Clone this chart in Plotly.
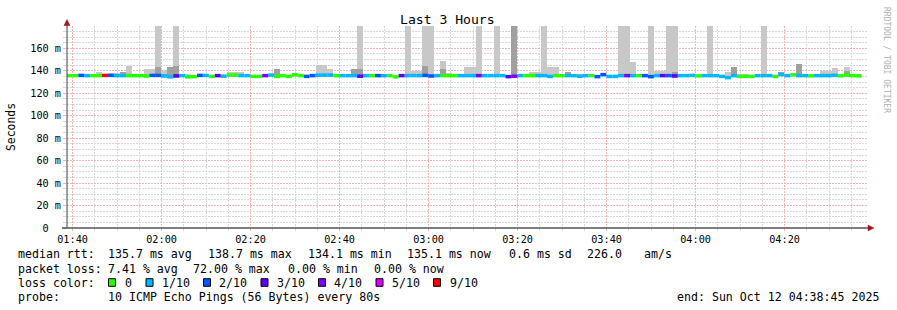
import plotly.graph_objects as go
from datetime import datetime, timedelta

N = None
range_start = "2025-10-12 01:38:45"
range_end = "2025-10-12 04:38:45"
first_bin_start = datetime(2025, 10, 12, 1, 38, 37)
step_seconds = 80

# loss count (of 10 pings) per 80 s bin
loss = [
    0, 0, 2, 1, 0, 0, 9, 2, 1, 1,
    0, 0, 0, 0, 2, 2, 1, 1, 3, 1,
    0, 0, 2, 1, 0, 3, 1, 0, 0, 1,
    1, 0, 0, 4, 1, 0, 0, 0, 0, 0,
    2, 2, 1, 1, 1, 0, 1, 1, 1, 3,
    1, 0, 2, 1, 0, 0, 3, 1, 1, 1,
    2, 2, 1, 0, 0, 0, 1, 1, 1, 4,
    1, 1, 1, 1, 3, 4, 1, 0, 0, 1,
    1, 1, 0, 0, 1, 1, 1, 1, 0, 2,
    2, 1, 1, 1, 4, 1, 0, 2, 2, 1,
    3, 2, 3, 1, 1, 1, 0, 1, 1, 1,
    1, 1, 1, 0, 0, 0, 1, 1, 1, 0,
    1, 1, 0, 1, 1, 0, 1, 1, 1, 1,
    0, 0, 0, 0,
]

# median rtt (ms)
median_ms = [
    135.7, 135.7, 135.9, 135.7, 135.7, 135.7, 135.9, 135.9, 135.7, 135.7,
    135.7, 135.7, 135.7, 135.5, 135.9, 135.9, 135.5, 134.6, 135.5, 135.7,
    134.6, 134.8, 135.9, 135.9, 135.0, 135.7, 135.2, 136.2, 136.2, 135.7,
    135.7, 135.0, 135.0, 135.7, 136.2, 135.0, 135.7, 135.0, 136.4, 135.7,
    135.0, 135.7, 136.2, 136.2, 136.2, 135.7, 135.7, 135.7, 135.7, 135.2,
    135.7, 135.7, 135.7, 135.7, 135.7, 134.6, 135.7, 135.7, 135.7, 135.7,
    135.9, 135.4, 135.7, 135.7, 135.7, 135.7, 135.7, 135.7, 135.7, 135.7,
    135.7, 135.7, 135.7, 135.7, 134.8, 135.2, 135.7, 135.7, 135.7, 135.7,
    135.7, 135.0, 135.7, 135.7, 135.7, 135.7, 135.2, 135.7, 135.7, 134.8,
    136.6, 135.0, 135.0, 135.7, 135.7, 135.7, 135.7, 135.7, 134.8, 135.7,
    135.7, 135.7, 135.5, 135.7, 135.7, 135.9, 135.5, 135.7, 135.7, 135.7,
    135.0, 133.9, 135.7, 135.0, 135.0, 135.0, 135.7, 135.7, 135.7, 135.0,
    136.6, 135.7, 136.4, 135.7, 135.7, 135.5, 135.7, 135.7, 135.7, 135.9,
    135.5, 136.4, 135.7, 135.5,
]

# smoke: lowest ping, highest ping, inner (2nd highest) ping (ms)
smoke_min = [
    N, N, N, N, N, 134.2, N, 134.4, 134.2, 134.2,
    134.2, N, N, 134.0, 134.4, 134.4, 134.0, 133.6, 134.0, N,
    133.6, N, N, N, N, N, N, 134.7, 134.7, 134.2,
    N, N, N, N, N, 133.5, N, N, N, N,
    N, N, 134.7, 134.7, 134.7, N, N, N, 134.2, 133.7,
    N, N, N, N, N, N, N, 134.2, 134.2, 134.2,
    134.4, 133.9, N, 134.2, 134.2, N, N, 134.2, 134.2, 134.2,
    N, N, 134.2, N, N, 133.7, N, N, 134.2, 134.2,
    134.2, 133.5, 134.2, N, 134.2, 134.2, 133.7, N, N, N,
    135.1, N, N, 134.2, 134.2, 134.2, N, N, 133.3, 134.2,
    134.2, 134.2, 134.0, 134.2, 134.2, 134.4, N, N, 134.2, N,
    N, 132.4, 134.2, 133.5, 133.5, N, N, 134.2, N, N,
    135.1, N, N, 134.2, N, N, N, 134.2, 134.2, 134.4,
    N, 134.9, N, N,
]
smoke_max = [
    N, N, N, N, N, 139.0, N, 137.8, 137.8, 138.7,
    144.0, N, N, 141.5, 142.0, 200, 140.4, 143.0, 200, N,
    137.5, N, N, N, N, N, N, 138.7, 139.0, 139.0,
    N, N, N, N, N, 142.0, N, N, N, N,
    N, N, 145.0, 145.0, 142.0, N, N, N, 141.6, 200,
    N, N, N, N, N, N, N, 200, 140.0, 140.0,
    200, 200, N, 149.0, 138.0, N, N, 143.0, 143.0, 200,
    N, N, 200, N, N, 200, N, N, 139.0, 139.0,
    200, 143.0, 143.0, N, 138.7, 137.0, 137.0, N, N, N,
    137.0, N, N, 200, 200, 147.5, N, N, 200, 140.0,
    140.0, 200, 200, 137.0, 137.0, 137.5, N, N, 200, N,
    N, 138.7, 143.0, 137.0, 137.0, N, N, 200, N, N,
    138.7, N, N, 146.0, N, N, N, 139.7, 139.7, 142.5,
    N, 143.0, N, N,
]
smoke_inner = [
    N, N, N, N, N, N, N, N, N, 138.7,
    N, N, N, N, N, 143.0, N, 143.0, 144.0, N,
    N, N, N, N, N, N, N, N, N, N,
    N, N, N, N, N, 142.0, N, N, N, N,
    N, N, 137.5, N, N, N, N, N, 141.6, 141.6,
    N, N, N, N, N, N, N, N, N, N,
    144.6, N, N, 142.0, N, N, N, N, N, N,
    N, N, N, N, N, 200, N, N, N, N,
    N, N, N, N, 138.7, N, N, N, N, N,
    N, N, N, N, N, N, N, N, N, N,
    N, N, 138.7, N, N, N, N, N, N, N,
    N, N, 143.0, N, N, N, N, N, N, N,
    138.7, N, N, 146.0, N, N, N, N, N, N,
    N, 140.0, N, N,
]

y_tick_vals = [0, 20, 40, 60, 80, 100, 120, 140, 160]
y_tick_text = ["0\u00a0\u00a0", "20 m", "40 m", "60 m", "80 m", "100 m", "120 m", "140 m", "160 m"]

loss_levels = [0, 1, 2, 3, 4, 5, 9]
loss_labels = ["0", "1/10", "2/10", "3/10", "4/10", "5/10", "9/10"]
loss_colors = ["#26ff00", "#00b8ff", "#0059ff", "#5e00ff", "#7e00ff", "#dd00ff", "#ff0000"]

title_text = "Last 3 Hours"
y_title = "Seconds"
watermark = "RRDTOOL / TOBI OETIKER"
rtt_label = "median rtt:"
rtt_stats = ["135.7 ms avg", "138.7 ms max", "134.1 ms min", "135.1 ms now", "0.6 ms sd", "226.0", "am/s"]
loss_label = "packet loss:"
loss_stats = ["7.41 % avg", "72.00 % max", "0.00 % min", "0.00 % now"]
color_label = "loss color:"
probe_label = "probe:"
probe_text = "10 ICMP Echo Pings (56 Bytes) every 80s"
end_text = "end: Sun Oct 12 04:38:45 2025"

# ---------------- layout geometry (pixels) ----------------
W, H = 897, 310
ML, MR, MT, MB = 67, 29, 26, 82
PW = W - ML - MR
PH = H - MT - MB
MONO = "DejaVu Sans Mono"


def px(xp):
    return (xp - ML) / PW


def py(yp):
    return (H - MB - yp) / PH


fig = go.Figure()

# smoke bars
bin_starts = [first_bin_start + timedelta(seconds=step_seconds * i) for i in range(len(median_ms))]
bin_centers = [b + timedelta(seconds=step_seconds / 2) for b in bin_starts]

xs, bases, heights = [], [], []
for c, lo, hi in zip(bin_centers, smoke_min, smoke_max):
    if hi is not None:
        xs.append(c)
        bases.append(lo)
        heights.append(hi - lo)
fig.add_trace(go.Bar(x=xs, y=heights, base=bases, width=step_seconds * 1000,
                     marker=dict(color="#c8c8c8", line=dict(width=0)), hoverinfo="skip"))

xs, bases, heights = [], [], []
for c, lo, hi in zip(bin_centers, smoke_min, smoke_inner):
    if hi is not None:
        xs.append(c)
        bases.append(lo)
        heights.append(hi - lo)
fig.add_trace(go.Bar(x=xs, y=heights, base=bases, width=step_seconds * 1000,
                     marker=dict(color="#a0a0a0", line=dict(width=0)), hoverinfo="skip"))

# median line coloured by loss
for lvl, col in zip(loss_levels, loss_colors):
    sx, sy = [], []
    for b, m, l in zip(bin_starts, median_ms, loss):
        if l == lvl:
            sx += [b, b + timedelta(seconds=step_seconds), None]
            sy += [m, m, None]
    if sx:
        fig.add_trace(go.Scatter(x=sx, y=sy, mode="lines",
                                 line=dict(color=col, width=3.5), hoverinfo="skip"))

shapes = []
# axis lines
shapes.append(dict(type="line", xref="paper", yref="paper", x0=px(62), x1=px(869), y0=0, y1=0,
                   line=dict(color="#000000", width=1)))
shapes.append(dict(type="line", xref="paper", yref="paper", x0=0, x1=0, y0=py(228), y1=py(23),
                   line=dict(color="#404040", width=1)))
# arrows
shapes.append(dict(type="path", xref="paper", yref="paper",
                   path=f"M {px(64)} {py(25.5)} L {px(70)} {py(25.5)} L {px(67)} {py(19.5)} Z",
                   fillcolor="#a01818", line=dict(color="#a01818", width=0.5)))
shapes.append(dict(type="path", xref="paper", yref="paper",
                   path=f"M {px(868)} {py(225)} L {px(868)} {py(231)} L {px(874)} {py(228)} Z",
                   fillcolor="#a01818", line=dict(color="#a01818", width=0.5)))

annotations = []


def txt(x, y, s, size=11.6, anchor="left", color="#000000", angle=0):
    annotations.append(dict(x=px(x), y=py(y), xref="paper", yref="paper", text=s, showarrow=False,
                            xanchor=anchor, yanchor="middle", borderpad=0, textangle=angle,
                            font=dict(family=MONO, size=size, color=color)))


txt(447.5, 20, title_text, size=13.1, anchor="center")
txt(11, 127, y_title, size=11.4, anchor="center", angle=-90)
txt(887, 60, watermark, size=8.0, anchor="center", color="#b0b0b0", angle=90)

row1, row2, row3, row4 = 254.5, 268.5, 282.5, 296.5
txt(16.5, row1, rtt_label)
for xpos, s in zip([107, 207, 307, 406, 508, 586, 643], rtt_stats):
    txt(xpos, row1, s)
txt(16.5, row2, loss_label)
for xpos, s in zip([107, 192, 287, 373], loss_stats):
    txt(xpos, row2, s)
txt(16.5, row3, color_label)
box_x = [108.5, 146, 203.5, 261, 318.5, 376, 433.5]
lab_x = [123.5, 160.5, 218, 276, 333, 390.5, 449]
for bx, lx, lab, col in zip(box_x, lab_x, loss_labels, loss_colors):
    shapes.append(dict(type="rect", xref="paper", yref="paper",
                       x0=px(bx), x1=px(bx + 7), y0=py(row3 + 3.8), y1=py(row3 - 3.8),
                       fillcolor=col, line=dict(color="#000000", width=1)))
    txt(lx, row3, lab)
txt(16.5, row4, probe_label)
txt(107, row4, probe_text)
txt(880.5, row4, end_text, anchor="right")

grid_major = "#f3b4b4"
grid_minor = "#d8d8d8"
dash = "2px,1px"

fig.update_layout(
    width=W, height=H,
    margin=dict(l=ML, r=MR, t=MT, b=MB, autoexpand=False),
    paper_bgcolor="#ffffff", plot_bgcolor="#ffffff",
    barmode="overlay", bargap=0, showlegend=False, hovermode=False,
    shapes=shapes, annotations=annotations,
    xaxis=dict(
        type="date", range=[range_start, range_end], dtick=20 * 60 * 1000,
        tickformat="%H:%M", showgrid=True, gridcolor=grid_major, griddash=dash, gridwidth=1,
        ticks="outside", ticklen=2, tickcolor=grid_major, zeroline=False, showline=False,
        tickfont=dict(family=MONO, size=10.2, color="#000000"),
        minor=dict(dtick=5 * 60 * 1000, showgrid=True, gridcolor=grid_minor, griddash=dash,
                   ticks="outside", ticklen=2, tickcolor=grid_minor),
        fixedrange=True,
    ),
    yaxis=dict(
        range=[0, 179.9], tickvals=y_tick_vals, ticktext=y_tick_text,
        showgrid=True, gridcolor=grid_major, griddash=dash, gridwidth=1,
        ticks="outside", ticklen=3, tickcolor=grid_major, zeroline=False, showline=False,
        tickfont=dict(family=MONO, size=10.2, color="#000000"),
        minor=dict(dtick=5, showgrid=True, gridcolor=grid_minor, griddash=dash,
                   ticks="outside", ticklen=3, tickcolor=grid_minor),
        fixedrange=True,
    ),
)

fig.write_html("out.html")
